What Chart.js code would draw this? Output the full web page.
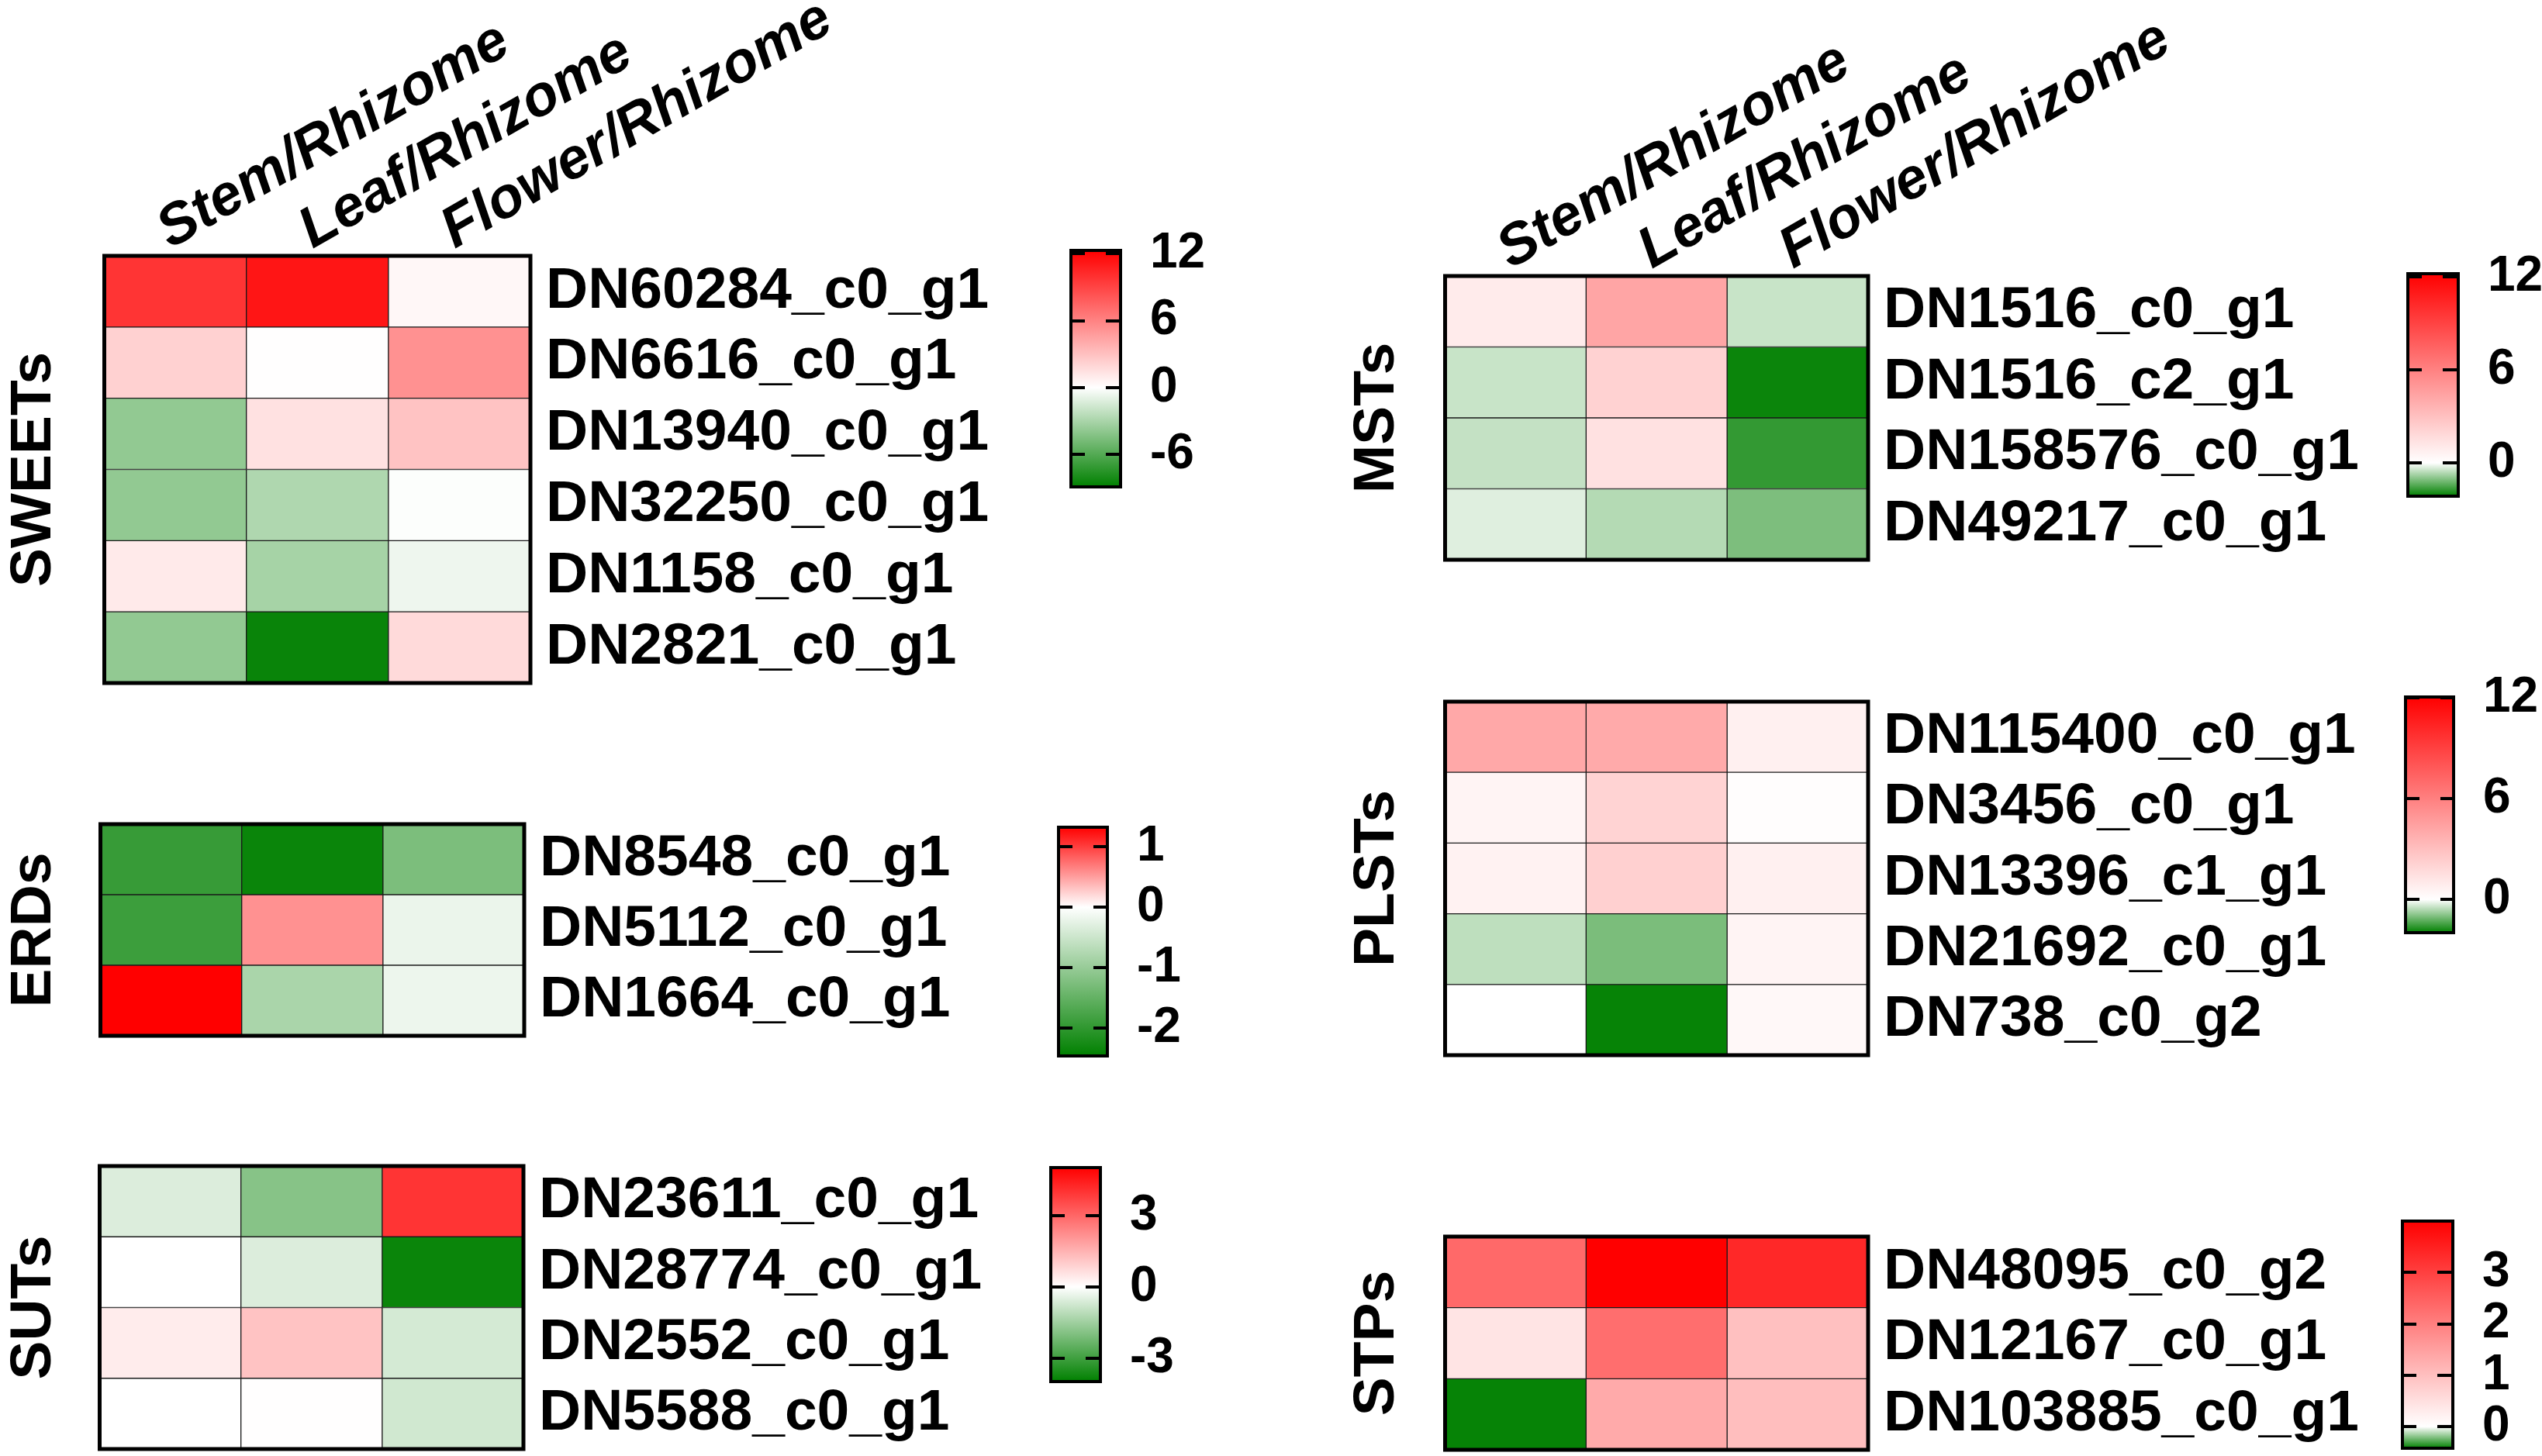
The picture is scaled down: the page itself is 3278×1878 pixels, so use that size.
<!DOCTYPE html>
<html>
<head>
<meta charset="utf-8">
<script src="https://cdn.jsdelivr.net/npm/chart.js@4.4.1/dist/chart.umd.min.js"></script>
<style>
html, body { margin: 0; padding: 0; background: #fff; width: 3278px; height: 1878px; overflow: hidden; position: relative; }
canvas { position: absolute; }
</style>
</head>
<body>
<script>
// column headers shared by every panel
const columns = ['Stem/Rhizome', 'Leaf/Rhizome', 'Flower/Rhizome'];

// one row per gene: [Stem, Leaf, Flower] log2 ratios
const sweetsGenes = ['DN60284_c0_g1', 'DN6616_c0_g1', 'DN13940_c0_g1', 'DN32250_c0_g1', 'DN1158_c0_g1', 'DN2821_c0_g1'];
const sweetsValues = [
  [9.8, 11.3, 0.4],
  [2.2, 0.05, 5.3],
  [-3.8, 1.45, 2.9],
  [-3.8, -2.8, -0.1],
  [1.0, -3.1, -0.6],
  [-3.8, -8.6, 1.8]
];
const sweetsRange = [-8.9, 12.3];
const sweetsTicks = [12, 6, 0, -6];

const erdsGenes = ['DN8548_c0_g1', 'DN5112_c0_g1', 'DN1664_c0_g1'];
const erdsValues = [
  [-1.93, -2.36, -1.26],
  [-1.88, 0.57, -0.19],
  [1.32, -0.82, -0.17]
];
const erdsRange = [-2.46, 1.32];
const erdsTicks = [1, 0, -1, -2];

const sutsGenes = ['DN23611_c0_g1', 'DN28774_c0_g1', 'DN2552_c0_g1', 'DN5588_c0_g1'];
const sutsValues = [
  [-0.55, -1.87, 4.0],
  [0, -0.55, -3.82],
  [0.37, 1.18, -0.67],
  [0, 0.02, -0.73]
];
const sutsRange = [-3.98, 5.02];
const sutsTicks = [3, 0, -3];

const mstsGenes = ['DN1516_c0_g1', 'DN1516_c2_g1', 'DN158576_c0_g1', 'DN49217_c0_g1'];
const mstsValues = [
  [0.95, 4.3, -0.46],
  [-0.46, 2.15, -2.06],
  [-0.5, 1.45, -1.72],
  [-0.27, -0.63, -1.1]
];
const mstsRange = [-2.15, 12.2];
const mstsTicks = [12, 6, 0];

const plstsGenes = ['DN115400_c0_g1', 'DN3456_c0_g1', 'DN13396_c1_g1', 'DN21692_c0_g1', 'DN738_c0_g2'];
const plstsValues = [
  [4.1, 4.0, 0.7],
  [0.52, 2.1, 0.1],
  [0.6, 2.2, 0.7],
  [-0.5, -1.02, 0.5],
  [0.02, -1.92, 0.33]
];
const plstsRange = [-1.97, 12.05];
const plstsTicks = [12, 6, 0];

const stpsGenes = ['DN48095_c0_g2', 'DN12167_c0_g1', 'DN103885_c0_g1'];
const stpsValues = [
  [2.35, 4.0, 3.37],
  [0.42, 2.27, 0.99],
  [-0.41, 1.33, 1.02]
];
const stpsRange = [-0.42, 4.0];
const stpsTicks = [3, 2, 1, 0];

Chart.defaults.font.family = '"Liberation Sans", Arial, Helvetica, sans-serif';
Chart.defaults.color = '#000';

const RED = [255, 0, 0], WHITE = [255, 255, 255], GREEN = [0, 128, 0];

function mix(a, b, t) {
  return 'rgb(' + a.map((v, i) => Math.round(v + (b[i] - v) * t)).join(',') + ')';
}

function heatColor(v, range) {
  if (v >= 0) return mix(WHITE, RED, Math.min(v / range[1], 1));
  return mix(WHITE, GREEN, Math.min(v / range[0], 1));
}

// thick outline round the plot area
const frame = {
  id: 'frame',
  afterDatasetsDraw(chart, args, opts) {
    const a = chart.chartArea, c = chart.ctx;
    c.save();
    c.lineWidth = opts.width;
    c.strokeStyle = '#000';
    c.strokeRect(a.left, a.top, a.right - a.left, a.bottom - a.top);
    c.restore();
  }
};

function addCanvas(x, y, w, h) {
  const cv = document.createElement('canvas');
  cv.width = w;
  cv.height = h;
  cv.style.left = x + 'px';
  cv.style.top = y + 'px';
  cv.style.width = w + 'px';
  cv.style.height = h + 'px';
  document.body.appendChild(cv);
  return cv;
}

function heatmap(p) {
  const titleSize = 75, axisW = 700, pad = 100;
  const headH = p.header ? 345 : 0;
  const left = p.titleX - titleSize / 2;
  const top = p.grid.t - headH - (p.header ? 0 : pad);
  const w = p.grid.r + axisW - left;
  const h = p.grid.b + pad - top;

  const scales = {
    x: { type: 'linear', stacked: true, min: 0, max: columns.length, display: false },
    y: {
      type: 'category', position: 'right', stacked: true, offset: true,
      grid: { display: false, drawTicks: false },
      border: { display: false },
      ticks: { font: { size: 75, weight: 'bold' }, padding: 20, color: '#000', autoSkip: false },
      afterFit: s => { s.width = axisW; }
    }
  };
  if (p.header) {
    scales.x2 = {
      type: 'category', position: 'top', labels: columns, offset: true,
      grid: { display: false, drawTicks: false },
      border: { display: false },
      ticks: {
        font: { size: 74, weight: 'bold', style: 'italic' },
        minRotation: 30, maxRotation: 30, autoSkip: false,
        padding: -12, labelOffset: 28, color: '#000'
      },
      afterFit: s => { s.height = headH; }
    };
  }

  new Chart(addCanvas(left, top, w, h), {
    type: 'bar',
    data: {
      labels: p.genes,
      datasets: columns.map((col, j) => ({
        label: col,
        data: p.genes.map(() => 1),
        backgroundColor: p.values.map(row => heatColor(row[j], p.range)),
        borderColor: '#1a1a1a',
        borderWidth: 1,
        borderSkipped: false,
        barPercentage: 1,
        categoryPercentage: 1
      }))
    },
    options: {
      indexAxis: 'y',
      responsive: false,
      animation: false,
      layout: { padding: { top: p.header ? 0 : pad, bottom: pad, left: 0, right: 0 } },
      scales: scales,
      plugins: {
        legend: { display: false },
        tooltip: { enabled: false },
        title: {
          display: true, text: p.title, position: 'left', fullSize: false, color: '#000',
          font: { size: titleSize, weight: 'bold', lineHeight: 1 },
          padding: { top: 0, bottom: p.grid.l - left - titleSize }
        },
        frame: { width: 5 }
      }
    },
    plugins: [frame]
  });
}

function colorbar(p) {
  const axisW = 140, pad = 100, lp = 3;
  const b = p.bar;
  const cv = addCanvas(b.l - lp, b.t - pad, b.r - b.l + axisW + lp, b.b - b.t + 2 * pad);
  new Chart(cv, {
    type: 'bar',
    data: {
      labels: [''],
      datasets: [{
        data: [p.range],
        barPercentage: 1,
        categoryPercentage: 1,
        borderWidth: 0,
        backgroundColor: ctx => {
          const ch = ctx.chart, y = ch.scales.y;
          if (!ch.chartArea || !y) return '#fff';
          const y0 = y.getPixelForValue(p.range[0]);
          const y1 = y.getPixelForValue(p.range[1]);
          if (!isFinite(y0) || !isFinite(y1)) return '#fff';
          const g = ch.ctx.createLinearGradient(0, y0, 0, y1);
          const z = (0 - p.range[0]) / (p.range[1] - p.range[0]);
          g.addColorStop(0, mix(GREEN, GREEN, 0));
          g.addColorStop(z, mix(WHITE, WHITE, 0));
          g.addColorStop(1, mix(RED, RED, 0));
          return g;
        }
      }]
    },
    options: {
      responsive: false,
      animation: false,
      layout: { padding: { top: pad, bottom: pad, left: lp, right: 0 } },
      scales: {
        x: { display: false },
        y: {
          min: p.range[0], max: p.range[1], position: 'right',
          afterBuildTicks: s => { s.ticks = p.ticks.map(v => ({ value: v })); },
          // short dashes at each tick, drawn over the gradient
          grid: { color: '#000', lineWidth: 4, drawTicks: false, z: 1 },
          border: { display: false, dash: [18, 27] },
          ticks: {
            font: { family: '"Liberation Sans Narrow", "Liberation Sans", Arial, sans-serif', size: 64, weight: 'bold' },
            padding: 38, color: '#000'
          },
          afterFit: s => { s.width = axisW; }
        }
      },
      plugins: {
        legend: { display: false },
        tooltip: { enabled: false },
        frame: { width: 4 }
      }
    },
    plugins: [frame]
  });
}

heatmap({ title: 'SWEETs', genes: sweetsGenes, values: sweetsValues, range: sweetsRange, header: true,
  titleX: 44, grid: { l: 134, r: 684, t: 330, b: 881 } });
heatmap({ title: 'ERDs', genes: erdsGenes, values: erdsValues, range: erdsRange, header: false,
  titleX: 44, grid: { l: 129, r: 676, t: 1063, b: 1336 } });
heatmap({ title: 'SUTs', genes: sutsGenes, values: sutsValues, range: sutsRange, header: false,
  titleX: 44, grid: { l: 128, r: 675, t: 1504, b: 1869 } });
heatmap({ title: 'MSTs', genes: mstsGenes, values: mstsValues, range: mstsRange, header: true,
  titleX: 1776, grid: { l: 1863, r: 2409, t: 356, b: 722 } });
heatmap({ title: 'PLSTs', genes: plstsGenes, values: plstsValues, range: plstsRange, header: false,
  titleX: 1776, grid: { l: 1863, r: 2409, t: 905, b: 1361 } });
heatmap({ title: 'STPs', genes: stpsGenes, values: stpsValues, range: stpsRange, header: false,
  titleX: 1776, grid: { l: 1863, r: 2409, t: 1595, b: 1870 } });

colorbar({ range: sweetsRange, ticks: sweetsTicks, bar: { l: 1381, r: 1445, t: 323, b: 628 } });
colorbar({ range: erdsRange, ticks: erdsTicks, bar: { l: 1365, r: 1428, t: 1067, b: 1362 } });
colorbar({ range: sutsRange, ticks: sutsTicks, bar: { l: 1355, r: 1419, t: 1506, b: 1782 } });
colorbar({ range: mstsRange, ticks: mstsTicks, bar: { l: 3105, r: 3170, t: 353, b: 640 } });
colorbar({ range: plstsRange, ticks: plstsTicks, bar: { l: 3102, r: 3164, t: 899, b: 1203 } });
colorbar({ range: stpsRange, ticks: stpsTicks, bar: { l: 3098, r: 3163, t: 1575, b: 1868 } });
</script>
</body>
</html>
